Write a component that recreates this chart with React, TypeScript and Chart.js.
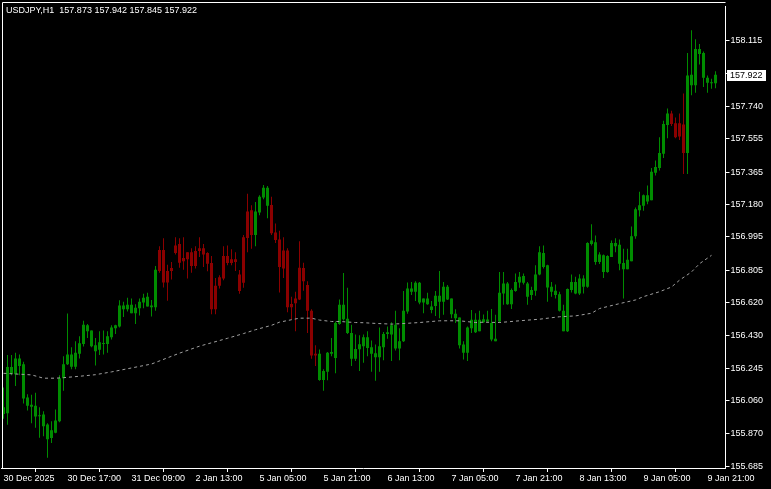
import React, { useEffect, useRef } from 'react';
import { Chart, registerables } from 'chart.js';

Chart.register(...registerables);

const symbolTitle = 'USDJPY,H1  157.873 157.942 157.845 157.922';
const xTickLabels = ['30 Dec 2025', '30 Dec 17:00', '31 Dec 09:00', '2 Jan 13:00', '5 Jan 05:00', '5 Jan 21:00', '6 Jan 13:00', '7 Jan 05:00', '7 Jan 21:00', '8 Jan 13:00', '9 Jan 05:00', '9 Jan 21:00'];
const xTickEvery = 16;
const yTickValues = [158.115, 157.93, 157.74, 157.555, 157.365, 157.18, 156.995, 156.805, 156.62, 156.43, 156.245, 156.06, 155.87, 155.685];
const lastPrice = 157.922;

const opens = [156.022, 155.988, 156.252, 156.210, 156.301, 156.267, 156.078, 156.037, 156.031, 155.971, 155.980, 155.924, 155.846, 155.877, 155.942, 156.188, 156.267, 156.324, 156.254, 156.327, 156.384, 156.490, 156.460, 156.376, 156.350, 156.389, 156.384, 156.422, 156.474, 156.484, 156.603, 156.582, 156.607, 156.559, 156.587, 156.620, 156.654, 156.593, 156.593, 156.801, 156.920, 156.735, 156.801, 156.903, 156.955, 156.856, 156.867, 156.908, 156.829, 156.914, 156.931, 156.903, 156.846, 156.582, 156.716, 156.757, 156.886, 156.846, 156.867, 156.780, 156.733, 156.989, 157.148, 157.006, 157.135, 157.220, 157.276, 157.178, 157.021, 156.980, 156.814, 156.918, 156.593, 156.616, 156.638, 156.818, 156.720, 156.574, 156.318, 156.327, 156.178, 156.225, 156.337, 156.304, 156.497, 156.607, 156.527, 156.446, 156.299, 156.354, 156.371, 156.422, 156.365, 156.331, 156.308, 156.365, 156.440, 156.437, 156.493, 156.358, 156.399, 156.569, 156.701, 156.682, 156.733, 156.620, 156.644, 156.597, 156.601, 156.659, 156.625, 156.710, 156.644, 156.556, 156.535, 156.380, 156.333, 156.474, 156.522, 156.456, 156.525, 156.512, 156.503, 156.414, 156.512, 156.672, 156.729, 156.610, 156.686, 156.735, 156.772, 156.729, 156.663, 156.688, 156.780, 156.903, 156.833, 156.710, 156.688, 156.667, 156.573, 156.456, 156.692, 156.738, 156.672, 156.757, 156.710, 156.955, 156.965, 156.852, 156.890, 156.795, 156.880, 156.961, 156.950, 156.846, 156.810, 156.856, 156.999, 157.148, 157.173, 157.233, 157.204, 157.361, 157.389, 157.470, 157.634, 157.700, 157.644, 157.569, 157.638, 157.474, 157.921, 157.861, 158.068, 158.046, 157.904, 157.876, 157.873];
const highs = [156.135, 156.320, 156.320, 156.333, 156.324, 156.282, 156.097, 156.093, 156.105, 156.022, 155.999, 155.931, 155.942, 156.009, 156.205, 156.314, 156.557, 156.365, 156.399, 156.427, 156.516, 156.497, 156.460, 156.418, 156.456, 156.460, 156.456, 156.490, 156.493, 156.633, 156.625, 156.648, 156.644, 156.610, 156.644, 156.671, 156.676, 156.635, 156.829, 156.942, 156.988, 156.836, 156.852, 156.993, 156.988, 156.993, 156.908, 156.931, 156.942, 156.993, 156.955, 156.908, 156.886, 156.761, 156.776, 156.942, 156.946, 156.924, 156.908, 156.806, 157.006, 157.242, 157.176, 157.195, 157.233, 157.291, 157.286, 157.225, 157.072, 157.031, 156.993, 156.931, 156.654, 156.682, 156.971, 156.848, 156.742, 156.582, 156.376, 156.352, 156.239, 156.338, 156.418, 156.512, 156.638, 156.789, 156.705, 156.493, 156.437, 156.433, 156.437, 156.456, 156.403, 156.380, 156.478, 156.452, 156.484, 156.508, 156.573, 156.474, 156.686, 156.735, 156.738, 156.742, 156.738, 156.644, 156.676, 156.629, 156.686, 156.801, 156.738, 156.720, 156.644, 156.582, 156.535, 156.399, 156.484, 156.578, 156.559, 156.574, 156.552, 156.573, 156.584, 156.550, 156.795, 156.795, 156.738, 156.701, 156.786, 156.795, 156.786, 156.738, 156.710, 156.833, 156.942, 156.946, 156.836, 156.738, 156.723, 156.682, 156.607, 156.701, 156.780, 156.767, 156.782, 156.776, 156.965, 157.068, 157.003, 156.908, 156.895, 156.890, 156.974, 156.988, 156.980, 156.927, 156.927, 157.055, 157.163, 157.253, 157.238, 157.289, 157.389, 157.431, 157.565, 157.659, 157.729, 157.716, 157.678, 157.700, 157.814, 158.046, 158.176, 158.125, 158.097, 158.055, 157.917, 157.899, 157.942];
const lows = [155.956, 155.922, 156.205, 156.144, 156.205, 156.044, 156.003, 155.931, 155.905, 155.848, 155.856, 155.733, 155.818, 155.874, 155.937, 156.116, 156.263, 156.239, 156.239, 156.301, 156.369, 156.418, 156.365, 156.261, 156.320, 156.324, 156.333, 156.409, 156.440, 156.478, 156.537, 156.569, 156.559, 156.497, 156.546, 156.587, 156.597, 156.540, 156.573, 156.791, 156.706, 156.631, 156.752, 156.895, 156.819, 156.808, 156.757, 156.791, 156.814, 156.880, 156.823, 156.799, 156.553, 156.553, 156.701, 156.748, 156.833, 156.833, 156.801, 156.671, 156.705, 156.908, 156.927, 156.942, 157.119, 157.210, 157.102, 157.006, 156.961, 156.678, 156.761, 156.565, 156.522, 156.456, 156.635, 156.688, 156.446, 156.299, 156.257, 156.173, 156.116, 156.176, 156.314, 156.216, 156.493, 156.518, 156.440, 156.257, 156.286, 156.229, 156.276, 156.314, 156.225, 156.173, 156.225, 156.290, 156.414, 156.286, 156.346, 156.290, 156.395, 156.556, 156.663, 156.629, 156.610, 156.559, 156.607, 156.559, 156.544, 156.531, 156.550, 156.635, 156.531, 156.503, 156.358, 156.295, 156.286, 156.446, 156.446, 156.456, 156.503, 156.512, 156.399, 156.399, 156.503, 156.607, 156.607, 156.584, 156.682, 156.705, 156.723, 156.607, 156.635, 156.659, 156.776, 156.814, 156.625, 156.654, 156.644, 156.569, 156.456, 156.452, 156.678, 156.667, 156.663, 156.672, 156.705, 156.946, 156.836, 156.840, 156.761, 156.791, 156.880, 156.908, 156.805, 156.644, 156.810, 156.856, 156.984, 157.112, 157.144, 157.182, 157.204, 157.346, 157.374, 157.446, 157.559, 157.629, 157.559, 157.549, 157.355, 157.355, 157.804, 157.819, 157.980, 157.852, 157.819, 157.842, 157.845];
const closes = [155.984, 156.252, 156.214, 156.301, 156.257, 156.072, 156.031, 156.025, 155.969, 155.975, 155.914, 155.839, 155.890, 155.946, 156.188, 156.267, 156.324, 156.254, 156.333, 156.388, 156.493, 156.456, 156.371, 156.342, 156.393, 156.384, 156.427, 156.478, 156.490, 156.603, 156.582, 156.607, 156.559, 156.591, 156.625, 156.648, 156.597, 156.603, 156.808, 156.920, 156.735, 156.801, 156.818, 156.946, 156.848, 156.874, 156.908, 156.829, 156.914, 156.931, 156.895, 156.842, 156.582, 156.716, 156.765, 156.886, 156.846, 156.867, 156.852, 156.686, 156.993, 157.140, 157.006, 157.140, 157.225, 157.276, 157.173, 157.016, 156.978, 156.823, 156.918, 156.593, 156.612, 156.644, 156.819, 156.742, 156.573, 156.318, 156.327, 156.178, 156.229, 156.333, 156.327, 156.503, 156.607, 156.525, 156.446, 156.299, 156.355, 156.382, 156.422, 156.361, 156.327, 156.308, 156.371, 156.440, 156.450, 156.490, 156.358, 156.399, 156.574, 156.701, 156.682, 156.733, 156.621, 156.644, 156.610, 156.578, 156.659, 156.625, 156.710, 156.638, 156.553, 156.531, 156.376, 156.333, 156.478, 156.522, 156.450, 156.522, 156.508, 156.523, 156.409, 156.399, 156.676, 156.729, 156.610, 156.692, 156.738, 156.767, 156.733, 156.654, 156.692, 156.780, 156.908, 156.823, 156.706, 156.682, 156.663, 156.573, 156.456, 156.697, 156.738, 156.672, 156.757, 156.710, 156.961, 156.974, 156.852, 156.895, 156.795, 156.886, 156.961, 156.942, 156.842, 156.810, 156.865, 156.999, 157.153, 157.176, 157.233, 157.197, 157.367, 157.395, 157.474, 157.640, 157.700, 157.640, 157.565, 157.644, 157.474, 157.917, 157.861, 158.068, 158.040, 157.904, 157.876, 157.873, 157.922];

// bars drawn in the indicator's "down" colour (first and last bar index of each run)
const bearRanges = [[39, 62], [67, 78], [167, 170]];

// moving average line, read at these bar indices
const maBars = [0, 7, 10, 13, 15, 19, 23, 27, 29, 37, 44, 49, 56, 60, 63, 67, 69, 72, 74, 77, 79, 82, 84, 88, 90, 93, 97, 99, 104, 109, 114, 118, 120, 124, 129, 134, 139, 143, 147, 149, 154, 158, 160, 164, 167, 169, 172, 174, 177];
const maValues = [156.216, 156.207, 156.188, 156.188, 156.191, 156.199, 156.208, 156.224, 156.233, 156.269, 156.331, 156.371, 156.416, 156.443, 156.465, 156.490, 156.508, 156.522, 156.531, 156.531, 156.520, 156.512, 156.512, 156.506, 156.505, 156.501, 156.497, 156.499, 156.506, 156.516, 156.516, 156.506, 156.508, 156.506, 156.516, 156.525, 156.539, 156.544, 156.559, 156.586, 156.614, 156.635, 156.654, 156.682, 156.709, 156.748, 156.795, 156.842, 156.890];

const W = 771;
const H = 489;
const BULL = '#008c00';
const BEAR = '#8b0000';
const FONT_FAMILY = '"Liberation Sans", Arial, sans-serif';
const FONT_SIZE = 9;

export default function App() {
  const ref = useRef<HTMLCanvasElement | null>(null);

  useEffect(() => {
    document.body.style.margin = '0';
    document.body.style.background = '#000';
    const canvas = ref.current;
    if (!canvas) return;

    const idx = opens.map((_, i) => i);
    const colorOf = (i: number) => (bearRanges.some(([a, b]) => i >= a && i <= b) ? BEAR : BULL);
    const colors = idx.map(colorOf);

    const mtPlugin = {
      id: 'mtFrame',
      beforeDraw(chart: any) {
        const ctx = chart.ctx;
        ctx.save();
        ctx.fillStyle = '#000';
        ctx.fillRect(0, 0, chart.width, chart.height);
        ctx.restore();
      },
      afterDraw(chart: any) {
        const { ctx, chartArea, scales } = chart;
        ctx.save();
        ctx.strokeStyle = '#fff';
        ctx.lineWidth = 1;
        ctx.beginPath();
        ctx.moveTo(2.5, chartArea.bottom);
        ctx.lineTo(2.5, 2.5);
        ctx.lineTo(chartArea.right, 2.5);
        ctx.stroke();
        ctx.font = `${FONT_SIZE}px ${FONT_FAMILY}`;
        ctx.fillStyle = '#fff';
        ctx.textBaseline = 'middle';
        ctx.textAlign = 'left';
        ctx.fillText(symbolTitle, 6, 10.5);
        const y = Math.round(scales.y.getPixelForValue(lastPrice));
        ctx.fillRect(727, y - 5, 39, 11);
        ctx.fillStyle = '#000';
        ctx.fillText(lastPrice.toFixed(3), 730, y + 0.5);
        ctx.restore();
      },
    };

    const chart = new Chart(canvas, {
      type: 'bar',
      data: {
        datasets: [
          {
            type: 'line',
            data: maBars.map((b, k) => ({ x: b, y: maValues[k] })),
            borderColor: '#a0a0a0',
            borderWidth: 1,
            borderDash: [3, 3],
            pointRadius: 0,
            tension: 0,
            fill: false,
            order: 1,
          } as any,
          {
            data: idx.map((i) => ({ x: i, y: [opens[i], closes[i]] })),
            backgroundColor: colors,
            barThickness: 3,
            minBarLength: 1,
            grouped: false,
            borderWidth: 0,
            inflateAmount: 0,
            order: 2,
          } as any,
          {
            data: idx.map((i) => ({ x: i, y: [lows[i], highs[i]] })),
            backgroundColor: colors,
            barThickness: 1,
            grouped: false,
            borderWidth: 0,
            inflateAmount: 0,
            order: 3,
          } as any,
        ],
      },
      options: {
        responsive: false,
        devicePixelRatio: 1,
        animation: false,
        events: [],
        layout: { padding: { left: 1.5, top: 2, right: 0, bottom: 0 } },
        plugins: { legend: { display: false }, tooltip: { enabled: false }, title: { display: false } },
        scales: {
          x: {
            type: 'linear',
            position: 'bottom',
            min: -0.5,
            max: 180.5,
            offset: false,
            grid: { display: true, drawOnChartArea: false, drawTicks: true, tickLength: 4, color: '#ffffff', lineWidth: 1 },
            border: { display: true, color: '#ffffff', width: 1 },
            afterBuildTicks: (scale: any) => {
              scale.ticks = xTickLabels.map((_, k) => ({ value: k * xTickEvery }));
            },
            afterFit: (scale: any) => {
              scale.height = 21;
            },
            ticks: {
              color: '#ffffff',
              font: { family: FONT_FAMILY, size: FONT_SIZE },
              maxRotation: 0,
              minRotation: 0,
              autoSkip: false,
              align: 'start',
              padding: 1,
              callback: (v: any) => xTickLabels[Math.round(Number(v) / xTickEvery)] ?? '',
            },
          } as any,
          y: {
            type: 'linear',
            position: 'right',
            min: 155.675,
            max: 158.312,
            grid: { display: true, drawOnChartArea: false, drawTicks: true, tickLength: 4, color: '#ffffff', lineWidth: 1 },
            border: { display: true, color: '#ffffff', width: 1 },
            afterBuildTicks: (scale: any) => {
              scale.ticks = yTickValues.map((v) => ({ value: v }));
            },
            afterFit: (scale: any) => {
              scale.width = 45.5;
            },
            ticks: {
              color: '#ffffff',
              font: { family: FONT_FAMILY, size: FONT_SIZE },
              autoSkip: false,
              padding: 1,
              callback: (v: any) => Number(v).toFixed(3),
            },
          } as any,
        },
      },
      plugins: [mtPlugin],
    } as any);

    return () => {
      chart.destroy();
    };
  }, []);

  return <canvas ref={ref} width={W} height={H} style={{ display: 'block', width: W, height: H }} />;
}
